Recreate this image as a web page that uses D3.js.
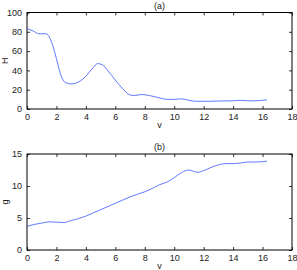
<!DOCTYPE html>
<html>
<head>
<meta charset="utf-8">
<script src="https://cdn.jsdelivr.net/npm/d3@7"></script>
<style>
body { margin: 0; background: #fff; }
svg text { font-family: "Liberation Sans", Arial, sans-serif; font-size: 9px; fill: #222; }
</style>
</head>
<body>
<script>
// values
var vH = [0, 0.4, 0.8, 1.3, 1.5, 1.7, 2, 2.3, 2.6, 3, 3.5, 4, 4.5, 4.8, 5.1, 5.5, 6, 6.5, 7, 7.3, 7.8, 8.3, 9, 9.5, 10, 10.5, 11, 11.5, 12, 12.5, 13, 14, 14.5, 15, 15.5, 16, 16.3];
var H  = [83, 81, 78, 78, 75, 68, 52, 35, 27.5, 26, 28, 34, 43, 47, 46, 39.5, 30, 21, 14.5, 14, 15, 14, 11.5, 10, 10, 10.5, 9, 8, 8, 8, 8.3, 8.5, 9, 8.5, 8.5, 9, 9.5];

var vG = [0, 0.5, 1, 1.5, 2, 2.5, 3, 3.5, 4, 4.5, 5, 5.5, 6, 6.5, 7, 7.5, 8, 8.5, 9, 9.5, 10, 10.5, 11, 11.3, 11.6, 12, 12.5, 13, 13.5, 14, 14.5, 15, 15.5, 16, 16.3];
var G  = [3.7, 4.0, 4.2, 4.4, 4.35, 4.3, 4.6, 4.9, 5.3, 5.8, 6.3, 6.8, 7.3, 7.8, 8.3, 8.7, 9.1, 9.6, 10.2, 10.6, 11.3, 12.1, 12.5, 12.3, 12.15, 12.4, 12.9, 13.3, 13.5, 13.5, 13.6, 13.75, 13.75, 13.8, 13.9];

var xTicks = [0, 2, 4, 6, 8, 10, 12, 14, 16, 18];
var hTicks = [0, 20, 40, 60, 80, 100];
var gTicks = [0, 5, 10, 15];

var W = 297, HT = 270;
var svg = d3.select('body').append('svg').attr('width', W).attr('height', HT);

function panel(top, bottom, xs, ys, yMax, yTicks, title, ylab) {
	var x = d3.scaleLinear().domain([0, 18]).range([27, 292]);
	var y = d3.scaleLinear().domain([0, yMax]).range([bottom, top]);
	var g = svg.append('g');

	// box
	g.append('rect')
		.attr('x', x(0)).attr('y', y(yMax))
		.attr('width', x(18) - x(0)).attr('height', y(0) - y(yMax))
		.attr('fill', 'none').attr('stroke', '#000').attr('stroke-width', 1);

	// inward ticks, bottom + top
	var bx = d3.axisBottom(x).tickValues(xTicks).tickSizeInner(-3).tickSizeOuter(0).tickPadding(5);
	var ax = g.append('g').attr('transform', 'translate(0,' + bottom + ')').call(bx);
	var tx = d3.axisTop(x).tickValues(xTicks).tickSizeInner(-3).tickSizeOuter(0).tickFormat('');
	var at = g.append('g').attr('transform', 'translate(0,' + top + ')').call(tx);

	var ly = d3.axisLeft(y).tickValues(yTicks).tickSizeInner(-3).tickSizeOuter(0).tickPadding(5);
	var al = g.append('g').attr('transform', 'translate(27,0)').call(ly);
	var ry = d3.axisRight(y).tickValues(yTicks).tickSizeInner(-3).tickSizeOuter(0).tickFormat('');
	var ar = g.append('g').attr('transform', 'translate(292,0)').call(ry);

	[ax, at, al, ar].forEach(function(a) {
		a.select('.domain').remove();
		a.selectAll('line').attr('stroke', '#000').attr('stroke-width', 0.8);
		a.selectAll('text').attr('font-family', null).attr('font-size', null).attr('fill', '#222');
	});

	var line = d3.line()
		.x(function(d, i) { return x(xs[i]); })
		.y(function(d) { return y(d); })
		.curve(d3.curveMonotoneX);
	g.append('path').datum(ys)
		.attr('d', line)
		.attr('fill', 'none')
		.attr('stroke', '#3a55ff')
		.attr('stroke-width', 0.8);

	g.append('text').attr('x', (x(0) + x(18)) / 2).attr('y', top - 4)
		.attr('text-anchor', 'middle').text(title);
	g.append('text').attr('x', (x(0) + x(18)) / 2).attr('y', bottom + 19)
		.attr('text-anchor', 'middle').text('v');
	g.append('text').attr('transform', 'translate(8,' + ((top + bottom) / 2) + ') rotate(-90)')
		.attr('text-anchor', 'middle').text(ylab);
}

panel(12.5, 109, vH, H, 100, hTicks, '(a)', 'H');
panel(154, 250, vG, G, 15, gTicks, '(b)', 'g');
</script>
</body>
</html>
